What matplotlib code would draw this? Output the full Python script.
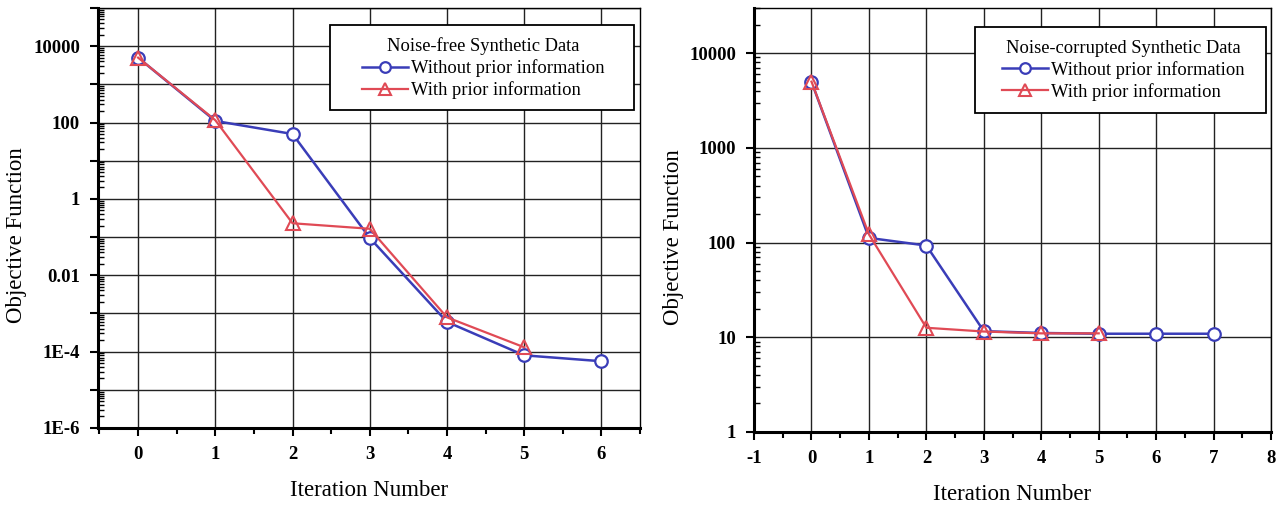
import numpy as np
import matplotlib.pyplot as plt
from matplotlib.patches import Rectangle
from matplotlib.ticker import NullFormatter, LogLocator, MultipleLocator

plt.rcParams['font.family'] = ['Liberation Serif', 'DejaVu Serif']
plt.rcParams['axes.unicode_minus'] = False

# noise-free synthetic data
free_iter_a = [0, 1, 2, 3, 4, 5, 6]
free_without = [5000, 110, 50, 0.095, 6e-4, 8e-5, 5.6e-5]
free_iter_b = [0, 1, 2, 3, 4, 5]
free_with = [5000, 115, 0.23, 0.165, 7.9e-4, 1.3e-4]
free_yticks = [1e-6, 1e-5, 1e-4, 1e-3, 1e-2, 1e-1, 1, 10, 100, 1000, 10000, 1e5]
free_ylabels = ['1E-6', '', '1E-4', '', '0.01', '', '1', '', '100', '', '10000', '']

# noise-corrupted synthetic data
noisy_iter_a = [0, 1, 2, 3, 4, 5, 6, 7]
noisy_without = [5000, 112, 93, 11.6, 11.1, 10.9, 10.9, 10.9]
noisy_iter_b = [0, 1, 2, 3, 4, 5]
noisy_with = [5000, 122, 12.6, 11.5, 11.0, 11.0]
noisy_yticks = [1, 10, 100, 1000, 10000]
noisy_ylabels = ['1', '10', '100', '1000', '10000']

blue = '#3a3db8'
red = '#e04a55'

fig = plt.figure(figsize=(12.87, 5.05), dpi=100)
ax1 = fig.add_axes([0.0761, 0.1525, 0.4212, 0.8317])
ax2 = fig.add_axes([0.5859, 0.1446, 0.4017, 0.8396])


def draw(ax, xa, ya, xb, yb, title, box, anchor):
    ax.plot(xa, ya, color=blue, lw=1.8, marker='o', ms=9, mfc='white',
            mec=blue, mew=1.6, label='Without prior information', zorder=3)
    ax.plot(xb, yb, color=red, lw=1.6, marker='^', ms=10, mfc='none',
            mec=red, mew=1.5, label='With prior information', zorder=4)
    ax.set_yscale('log')
    ax.grid(True, which='major', color='#222222', lw=1.0)
    for side in ['left', 'bottom']:
        ax.spines[side].set_linewidth(2.2)
    for side in ['top', 'right']:
        ax.spines[side].set_linewidth(1.0)
    ax.tick_params(which='major', direction='out', length=6, width=1.5,
                   labelsize=13.5, pad=7)
    ax.tick_params(axis='y', which='minor', direction='in', length=4, width=1.0)
    ax.tick_params(axis='x', which='minor', direction='out', length=4, width=1.5)
    ax.xaxis.set_minor_locator(MultipleLocator(0.5))
    ax.yaxis.set_minor_locator(LogLocator(base=10, subs=np.arange(2, 10), numticks=30))
    ax.yaxis.set_minor_formatter(NullFormatter())
    ax.set_xlabel('Iteration Number', fontsize=16.5, labelpad=12)
    ax.set_ylabel('Objective Function', fontsize=16.5, labelpad=4, y=0.46)

    # legend box drawn separately so its size can be set
    x0, y0, x1, y1 = box
    ax.add_patch(Rectangle((x0, y0), x1 - x0, y1 - y0, transform=ax.transAxes,
                           facecolor='white', edgecolor='black', lw=1.3,
                           zorder=5))
    leg = ax.legend(loc='upper left', bbox_to_anchor=anchor, title=title,
                    title_fontsize=13.3, fontsize=13.3, frameon=False,
                    handlelength=2.5, handletextpad=0.15, borderaxespad=0,
                    borderpad=0, labelspacing=0.22, markerscale=0.85)
    leg.set_zorder(6)


draw(ax1, free_iter_a, free_without, free_iter_b, free_with,
     'Noise-free Synthetic Data', (0.428, 0.757, 0.989, 0.9595), (0.487, 0.93))
ax1.set_xlim(-0.52, 6.5)
ax1.set_ylim(1e-6, 1e5)
ax1.set_xticks(range(0, 7))
ax1.set_yticks(free_yticks)
ax1.set_yticklabels(free_ylabels)

draw(ax2, noisy_iter_a, noisy_without, noisy_iter_b, noisy_with,
     'Noise-corrupted Synthetic Data', (0.4275, 0.752, 0.990, 0.955), (0.48, 0.925))
ax2.set_xlim(-1, 8)
ax2.set_ylim(1, 30000)
ax2.set_xticks(range(-1, 9))
ax2.set_yticks(noisy_yticks)
ax2.set_yticklabels(noisy_ylabels)

for ax in (ax1, ax2):
    for lbl in ax.get_xticklabels() + ax.get_yticklabels():
        lbl.set_fontweight('bold')

fig.savefig('out.png', dpi=100)
